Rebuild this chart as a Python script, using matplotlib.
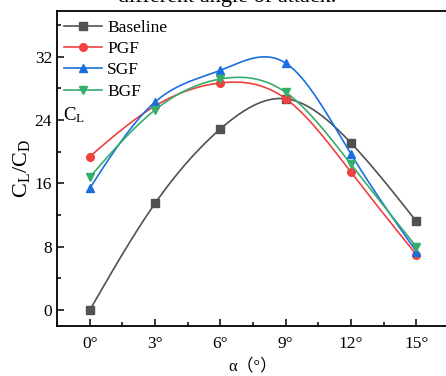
import numpy as np
import matplotlib
matplotlib.use('Agg')
import matplotlib.pyplot as plt
from matplotlib.ticker import MultipleLocator

plt.rcParams['font.family'] = ['Liberation Serif', 'Noto Sans CJK SC']
plt.rcParams['mathtext.fontset'] = 'stix'

# data
alpha    = [0, 3, 6, 9, 12, 15]
xlabels  = ['0°', '3°', '6°', '9°', '12°', '15°']
baseline = [0.0, 13.5, 22.9, 26.7, 21.1, 11.2]
pgf      = [19.4, 25.8, 28.7, 26.7, 17.4, 7.0]
sgf      = [15.4, 26.3, 30.3, 31.2, 19.7, 7.4]
bgf      = [16.8, 25.3, 29.2, 27.5, 18.4, 8.0]

names   = ['Baseline', 'PGF', 'SGF', 'BGF']
series  = [baseline, pgf, sgf, bgf]
colors  = ['#515151', '#F14040', '#1A6FDF', '#37AD6B']
markers = ['s', 'o', '^', 'v']


# natural cubic spline through the points (Origin "spline" connect)
def spline(x, y, n=200):
    x = np.asarray(x, float)
    y = np.asarray(y, float)
    k = len(x)
    h = np.diff(x)
    A = np.zeros((k, k))
    b = np.zeros(k)
    A[0, 0] = A[-1, -1] = 1
    for i in range(1, k - 1):
        A[i, i - 1] = h[i - 1]
        A[i, i] = 2 * (h[i - 1] + h[i])
        A[i, i + 1] = h[i]
        b[i] = 6 * ((y[i + 1] - y[i]) / h[i] - (y[i] - y[i - 1]) / h[i - 1])
    M = np.linalg.solve(A, b)
    xs = np.linspace(x[0], x[-1], n)
    j = np.clip(np.searchsorted(x, xs) - 1, 0, k - 2)
    t1 = x[j + 1] - xs
    t0 = xs - x[j]
    hj = h[j]
    ys = (M[j] * t1**3 + M[j + 1] * t0**3) / (6 * hj) \
        + (y[j] / hj - M[j] * hj / 6) * t1 + (y[j + 1] / hj - M[j + 1] * hj / 6) * t0
    return xs, ys


fig = plt.figure(figsize=(4.46, 3.76), dpi=100)
ax = fig.add_axes([0.128, 0.133, 0.879, 0.838])

for nm, yv, c, m in zip(names, series, colors, markers):
    xs, ys = spline(alpha, yv)
    ax.plot(xs, ys, color=c, lw=1.2)
    ax.plot(alpha, yv, color=c, lw=0, marker=m, ms=5.5)
    ax.plot([], [], color=c, lw=1.2, marker=m, ms=5.5, label=nm)

ax.set_xlim(-1.5, 16.5)
ax.set_ylim(-2, 37.8)
ax.set_xticks(alpha)
ax.set_xticklabels(xlabels)
ax.set_yticks([0, 8, 16, 24, 32])
ax.xaxis.set_minor_locator(MultipleLocator(1.5))
ax.yaxis.set_minor_locator(MultipleLocator(4))
ax.tick_params(which='both', direction='in', labelsize=12.5, width=1.1)
ax.tick_params(which='major', length=5)
ax.tick_params(which='minor', length=3)
ax.tick_params(axis='x', pad=7)
for s in ax.spines.values():
    s.set_linewidth(1.3)

ax.set_xlabel('α（°）', fontsize=12, labelpad=5)
ax.set_ylabel(r'$\mathregular{C_L/C_D}$', fontsize=16, labelpad=2)
ax.text(-1.25, 24.6, r'$\mathregular{C_L}$', fontsize=13.5, va='center', ha='left')

ax.legend(loc='upper left', frameon=False, fontsize=12.5, handlelength=2.2,
          borderaxespad=0.1, labelspacing=0.3, handletextpad=0.3,
          bbox_to_anchor=(-0.005, 1.0))

fig.text(0.51, 1.008, 'different angle of attack.', fontsize=16, ha='center', va='center')

fig.savefig('out.png', dpi=100)
